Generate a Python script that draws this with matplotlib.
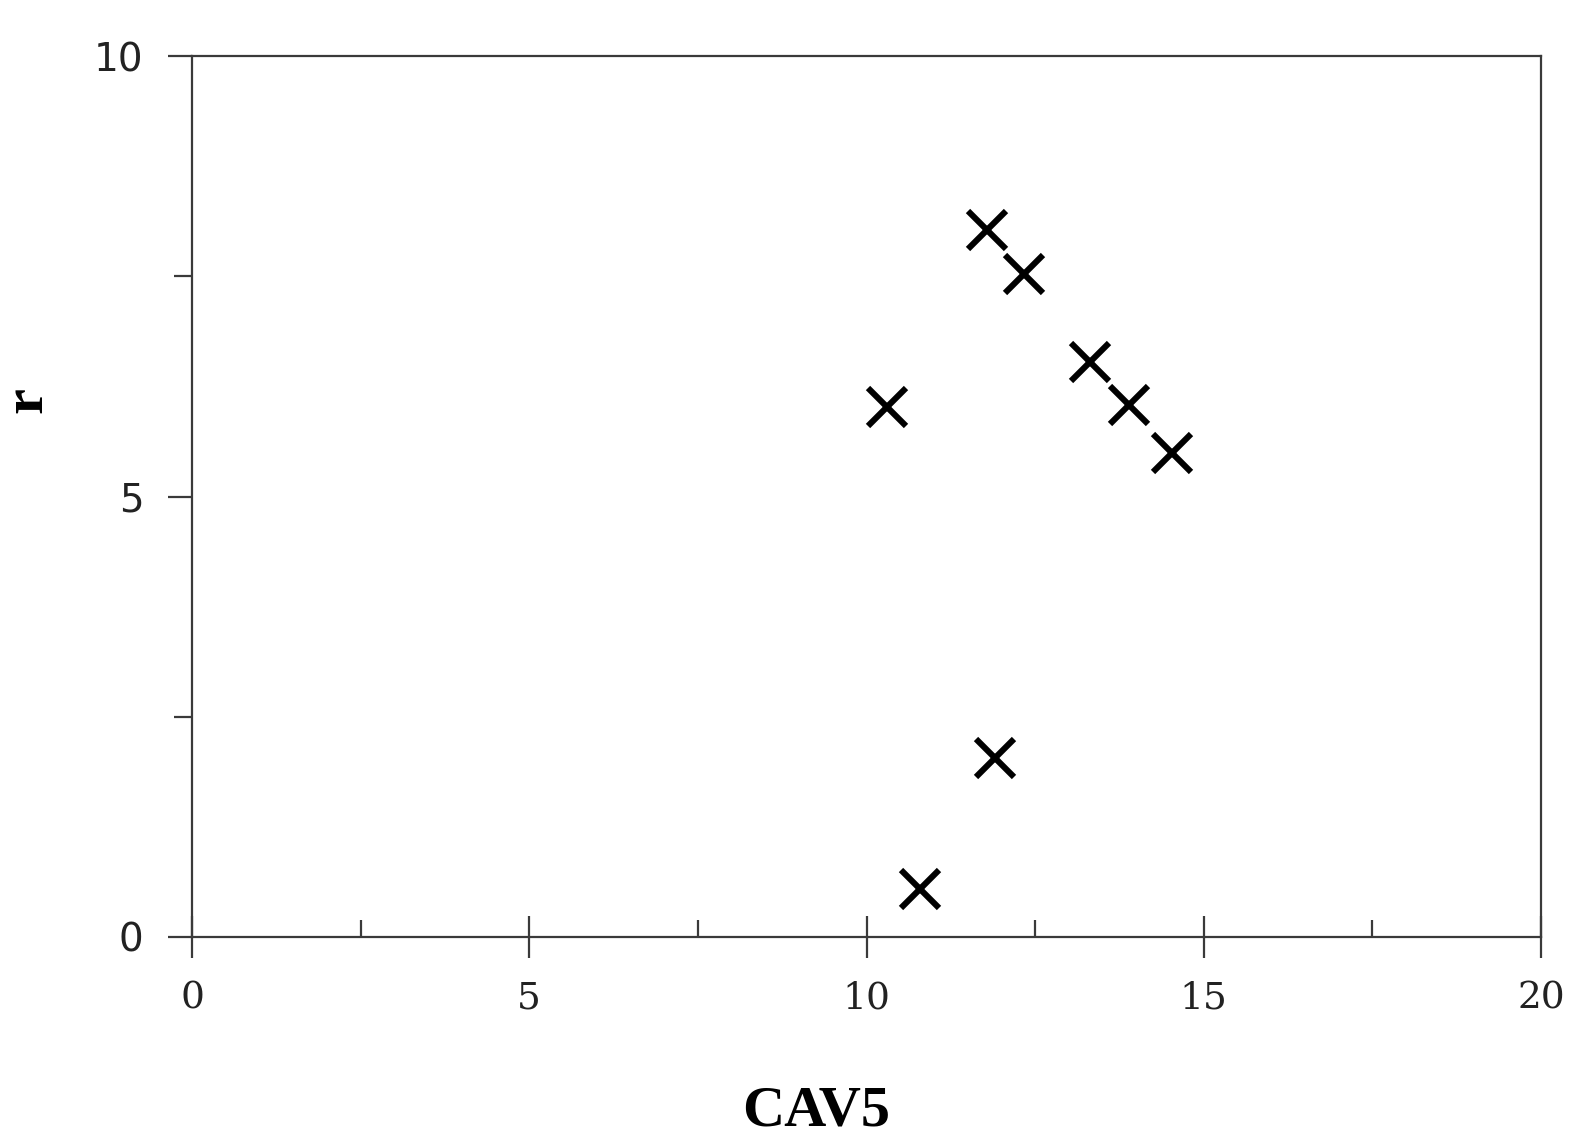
import matplotlib
matplotlib.use("Agg")
import matplotlib.pyplot as plt
from matplotlib.ticker import MultipleLocator

cav5 = [10.31, 11.79, 12.33, 13.32, 13.89, 14.53, 11.91, 10.80]
r_vals = [6.02, 8.02, 7.53, 6.53, 6.04, 5.49, 2.03, 0.54]
x_ticks = [0, 5, 10, 15, 20]
y_ticks = [0, 5, 10]

fig = plt.figure(figsize=(15.84, 11.48), dpi=100)
ax = fig.add_axes([0.1212, 0.1838, 0.9729 - 0.1212, 0.9512 - 0.1838])

ax.plot(cav5, r_vals, linestyle='none', marker='x', color='black',
        markersize=27, markeredgewidth=4.4, clip_on=False)

ax.set_xlim(0, 20)
ax.set_ylim(0, 10)
ax.set_xticks(x_ticks)
ax.set_yticks(y_ticks)
ax.xaxis.set_minor_locator(MultipleLocator(2.5))
ax.yaxis.set_minor_locator(MultipleLocator(2.5))

spine_color = '#3a3a3a'
for s in ax.spines.values():
    s.set_linewidth(1.6)
    s.set_color(spine_color)

ax.tick_params(axis='x', which='major', direction='inout', length=30, width=1.6,
               color=spine_color, pad=16)
ax.tick_params(axis='x', which='minor', direction='in', length=12, width=1.6,
               color=spine_color)
ax.tick_params(axis='y', which='major', direction='out', length=17, width=1.6,
               color=spine_color, pad=18)
ax.tick_params(axis='y', which='minor', direction='out', length=13, width=1.6,
               color=spine_color)

ax.set_xticklabels([str(v) for v in x_ticks], family='DejaVu Serif', fontsize=27,
                   color='#222222')
ax.set_yticklabels([str(v) for v in y_ticks], family='DejaVu Sans', fontsize=28,
                   color='#222222')

ax.set_xlabel('CAV5', family='Liberation Serif', fontweight='bold', fontsize=42)
ax.xaxis.set_label_coords(0.4626, -0.168)
ax.set_ylabel('r', family='Liberation Serif', fontweight='bold', fontsize=42)
ax.yaxis.set_label_coords(-0.103, 0.61)

fig.savefig('out.png', dpi=100, facecolor='white')
